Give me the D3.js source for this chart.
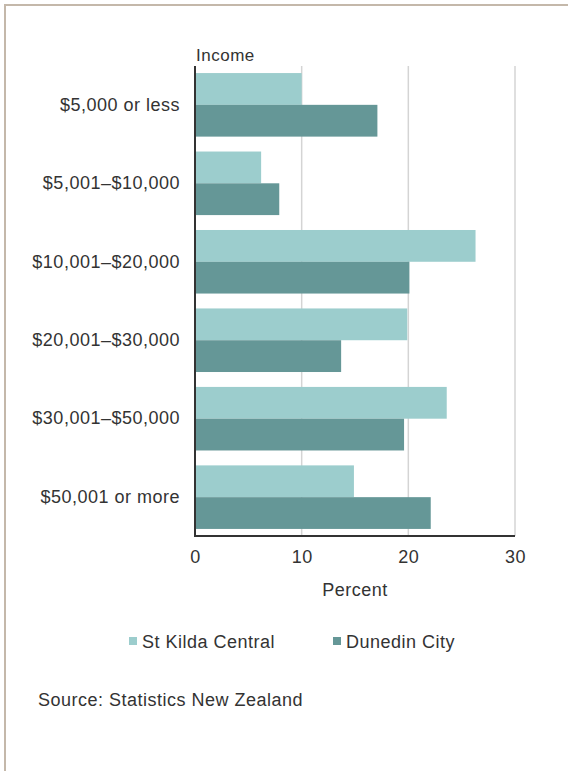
<!DOCTYPE html>
<html>
<head>
	<meta charset="utf-8" />
	<script src="https://cdnjs.cloudflare.com/ajax/libs/d3/7.8.5/d3.min.js"></script>
	<style>
		body { margin: 0; background: #fff; }
		svg text { font-family: 'Liberation Sans', Arial, sans-serif; fill: #333; letter-spacing: 0.5px; }
	</style>
</head>
<body>
	<script>
		// Data
		const categories = ["$5,000 or less", "$5,001\u2013$10,000", "$10,001\u2013$20,000",
			"$20,001\u2013$30,000", "$30,001\u2013$50,000", "$50,001 or more"];
		const seriesNames = ["St Kilda Central", "Dunedin City"];
		const stKilda = [10.0, 6.2, 26.3, 19.9, 23.6, 14.9];
		const dunedin = [17.1, 7.9, 20.1, 13.7, 19.6, 22.1];
		const xTicks = [0, 10, 20, 30];

		const w = 568, h = 771;
		const plotLeft = 195, plotRight = 515, plotTop = 66, plotBottom = 536;
		const colors = ["#9ccdcd", "#659797"];

		const svg = d3.select("body").append("svg")
			.attr("width", w)
			.attr("height", h);

		// frame
		svg.append("rect")
			.attr("x", 5).attr("y", 5)
			.attr("width", 700).attr("height", 900)
			.attr("fill", "none")
			.attr("stroke", "#c4b8aa")
			.attr("stroke-width", 2);

		const xScale = d3.scaleLinear().domain([0, 30]).range([plotLeft, plotRight]);
		const yScale = d3.scaleBand().domain(categories).range([plotTop, plotBottom])
			.paddingInner(0.19).paddingOuter(0.09);
		const ySub = d3.scaleBand().domain(seriesNames).range([0, yScale.bandwidth()]);

		// gridlines
		svg.append("g").selectAll("line")
			.data(xTicks.slice(1))
			.enter().append("line")
			.attr("x1", d => xScale(d)).attr("x2", d => xScale(d))
			.attr("y1", plotTop).attr("y2", plotBottom)
			.attr("stroke", "#d4d4d4")
			.attr("stroke-width", 1.5);

		// bars
		const rows = categories.map((c, i) => ({ cat: c, vals: [stKilda[i], dunedin[i]] }));
		const groups = svg.append("g").selectAll("g")
			.data(rows)
			.enter().append("g")
			.attr("transform", d => "translate(0," + yScale(d.cat) + ")");

		groups.selectAll("rect")
			.data(d => d.vals.map((v, j) => ({ name: seriesNames[j], v: v, j: j })))
			.enter().append("rect")
			.attr("x", xScale(0))
			.attr("y", d => ySub(d.name))
			.attr("width", d => xScale(d.v) - xScale(0))
			.attr("height", ySub.bandwidth())
			.attr("fill", d => colors[d.j]);

		// axes lines
		svg.append("line")
			.attr("x1", plotLeft).attr("x2", plotLeft)
			.attr("y1", plotTop).attr("y2", plotBottom)
			.attr("stroke", "#333").attr("stroke-width", 2);
		svg.append("line")
			.attr("x1", plotLeft - 1).attr("x2", plotRight)
			.attr("y1", plotBottom).attr("y2", plotBottom)
			.attr("stroke", "#333").attr("stroke-width", 2);

		// x tick labels
		const xAxis = d3.axisBottom(xScale).tickValues(xTicks).tickSize(0).tickPadding(14);
		const gx = svg.append("g")
			.attr("transform", "translate(0," + plotBottom + ")")
			.call(xAxis);
		gx.select(".domain").remove();
		gx.selectAll("text")
			.style("font-size", "18px")
			.attr("fill", "#333");

		// y category labels
		const yAxis = d3.axisLeft(yScale).tickSize(0).tickPadding(15);
		const gy = svg.append("g")
			.attr("transform", "translate(" + plotLeft + ",0)")
			.call(yAxis);
		gy.select(".domain").remove();
		gy.selectAll("text")
			.style("font-size", "18px")
			.attr("fill", "#333");

		// axis titles
		svg.append("text")
			.attr("x", plotLeft + 1).attr("y", 61)
			.style("font-size", "17px")
			.text("Income");

		svg.append("text")
			.attr("x", (xScale(0) + xScale(30)) / 2).attr("y", 596)
			.attr("text-anchor", "middle")
			.style("font-size", "18px")
			.text("Percent");

		// legend
		const legendX = [129, 333];
		const legend = svg.append("g").selectAll("g")
			.data(seriesNames)
			.enter().append("g")
			.attr("transform", (d, i) => "translate(" + legendX[i] + ",637)");
		legend.append("rect")
			.attr("width", 8).attr("height", 8)
			.attr("fill", (d, i) => colors[i]);
		legend.append("text")
			.attr("x", 13).attr("y", 11)
			.style("font-size", "18px")
			.text(d => d);

		// source note
		svg.append("text")
			.attr("x", 38).attr("y", 706)
			.style("font-size", "18px")
			.text("Source: Statistics New Zealand");
	</script>
</body>
</html>
